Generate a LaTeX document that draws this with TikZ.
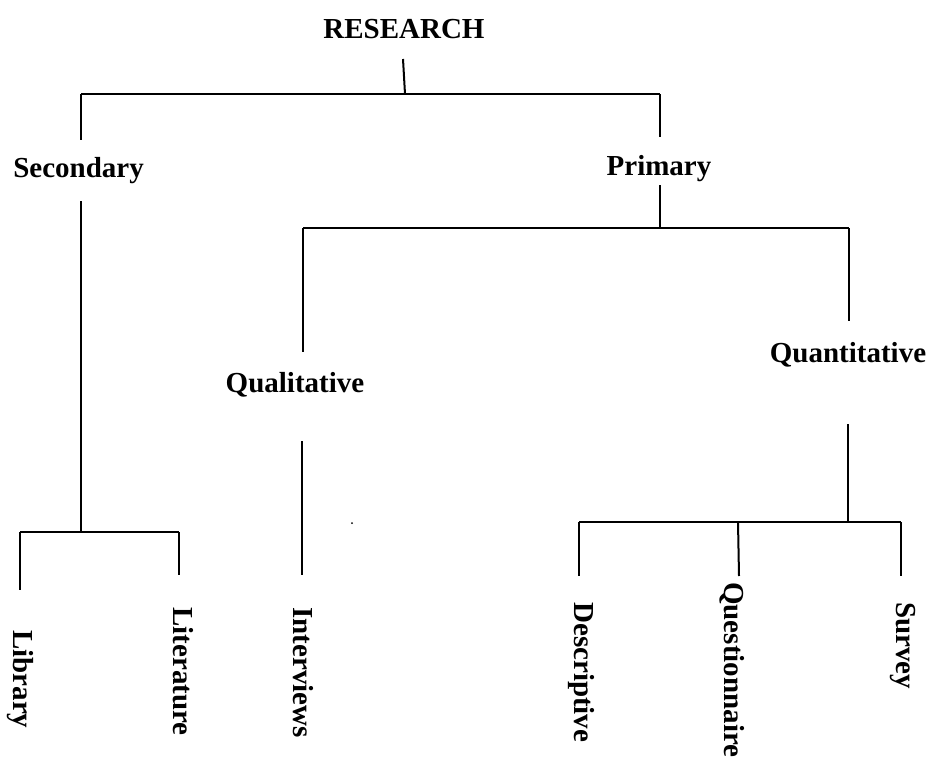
\documentclass[tikz,border=0pt]{standalone}
\usepackage{fontspec}
\setmainfont{Liberation Serif}
\begin{document}
\begin{tikzpicture}[x=1pt,y=1pt,
  lbl/.style={inner sep=0pt,font=\fontsize{29}{34}\selectfont\bfseries},
  hl/.style={lbl,anchor=base},
  vl/.style={lbl,rotate=-90,anchor=base west},
  conn/.style={draw=black,line width=2pt}]
\useasboundingbox (0,0) rectangle (928,-760);
% labels
\node[hl] (research) at (404,-39) {RESEARCH};
\node[hl] (secondary) at (78.5,-177) {Secondary};
\node[hl] (primary) at (659,-175) {Primary};
\node[hl] (qualitative) at (295,-392) {Qualitative};
\node[hl] (quantitative) at (848,-362) {Quantitative};
\node[vl] (library) at (13,-630) {Library};
\node[vl] (literature) at (173,-607) {Literature};
\node[vl] (interviews) at (293,-607) {Interviews};
\node[vl] (descriptive) at (574,-602) {Descriptive};
\node[vl] (questionnaire) at (724,-582) {Questionnaire};
\node[vl] (survey) at (896,-602) {Survey};
% junction coordinates
\coordinate (rTop) at (403,-59);
\coordinate (rJ) at (405,-94);
\coordinate (sJ) at (81,-94);
\coordinate (pJ) at (660,-94);
\coordinate (sIn) at (81,-140);
\coordinate (pIn) at (660,-137);
\coordinate (sOut) at (81,-201);
\coordinate (sJ2) at (81,-532);
\coordinate (libJ) at (20,-532);
\coordinate (litJ) at (179,-532);
\coordinate (libIn) at (20,-590);
\coordinate (litIn) at (179,-575);
\coordinate (pOut) at (660,-185);
\coordinate (pJ2) at (660,-228);
\coordinate (qlJ) at (303,-228);
\coordinate (qnJ) at (849,-228);
\coordinate (qlIn) at (303,-352);
\coordinate (qnIn) at (849,-321);
\coordinate (qlOut) at (302,-441);
\coordinate (intIn) at (302,-575);
\coordinate (qnOut) at (848,-424);
\coordinate (qnJ2) at (848,-522);
\coordinate (desJ) at (579,-522);
\coordinate (queJ) at (738,-522);
\coordinate (surJ) at (901,-522);
\coordinate (desIn) at (579,-576);
\coordinate (queIn) at (739,-576);
\coordinate (surIn) at (901,-576);
% connectors
\draw[conn] (rTop) -- (rJ);
\draw[conn] (sJ) -- (pJ);
\draw[conn] (sJ) -- (sIn);
\draw[conn] (pJ) -- (pIn);
\draw[conn] (sOut) -- (sJ2);
\draw[conn] (libJ) -- (litJ);
\draw[conn] (libJ) -- (libIn);
\draw[conn] (litJ) -- (litIn);
\draw[conn] (pOut) -- (pJ2);
\draw[conn] (qlJ) -- (qnJ);
\draw[conn] (qlJ) -- (qlIn);
\draw[conn] (qnJ) -- (qnIn);
\draw[conn] (qlOut) -- (intIn);
\draw[conn] (qnOut) -- (qnJ2);
\draw[conn] (desJ) -- (surJ);
\draw[conn] (desJ) -- (desIn);
\draw[conn] (queJ) -- (queIn);
\draw[conn] (surJ) -- (surIn);
% stray dot
\fill (352,-523) circle (1pt);
\end{tikzpicture}
\end{document}
